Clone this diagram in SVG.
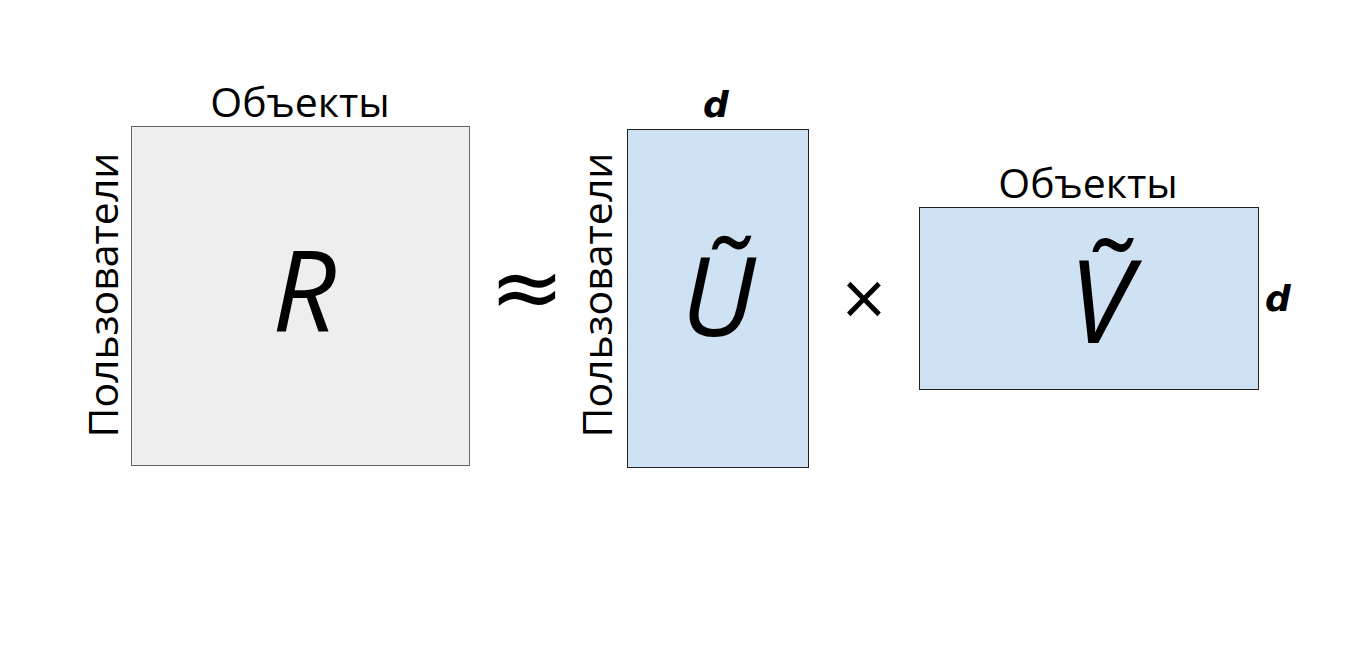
<svg xmlns="http://www.w3.org/2000/svg" width="1352" height="663" viewBox="0 0 1352 663">
<style>
.lbl{font-family:"Open Sans","Noto Sans",sans-serif;font-size:41px;fill:#000;text-anchor:middle}
.sym{font-family:"Open Sans","Noto Sans",sans-serif;font-style:italic;fill:#000;text-anchor:middle}
.d{font-family:"DejaVu Sans",sans-serif;font-style:italic;font-weight:bold;font-size:36px;fill:#000;text-anchor:middle}
.op{font-family:"DejaVu Sans",sans-serif;fill:#000;text-anchor:middle}
</style>
<rect width="1352" height="663" fill="#fff"/>
<g id="R">
<rect x="131.5" y="126.5" width="338" height="339" fill="#eeeeee" stroke="#666" stroke-width="1"/>
<text class="sym" x="304" y="331" font-size="112">R</text>
<text class="lbl" x="300" y="117">Объекты</text>
<text class="lbl" transform="translate(118,295) rotate(-90)">Пользователи</text>
</g>
<g id="approx"><text class="op" x="527" y="318" font-size="90">≈</text></g>
<g id="U">
<rect x="627.5" y="129.5" width="181" height="338" fill="#cfe2f3" stroke="#222" stroke-width="1"/>
<text class="sym" x="718" y="336" font-size="110">Ũ</text>
<text class="d" x="716" y="117">d</text>
<text class="lbl" transform="translate(612,295) rotate(-90)">Пользователи</text>
</g>
<g id="times"><text class="op" x="864" y="318" font-size="60">×</text></g>
<g id="V">
<rect x="919.5" y="207.5" width="339" height="182" fill="#cfe2f3" stroke="#222" stroke-width="1"/>
<text class="sym" x="1100" y="343" font-size="115">Ṽ</text>
<text class="lbl" x="1088" y="198">Объекты</text>
<text class="d" x="1278" y="311">d</text>
</g>
<g id="connectors"/>
</svg>
